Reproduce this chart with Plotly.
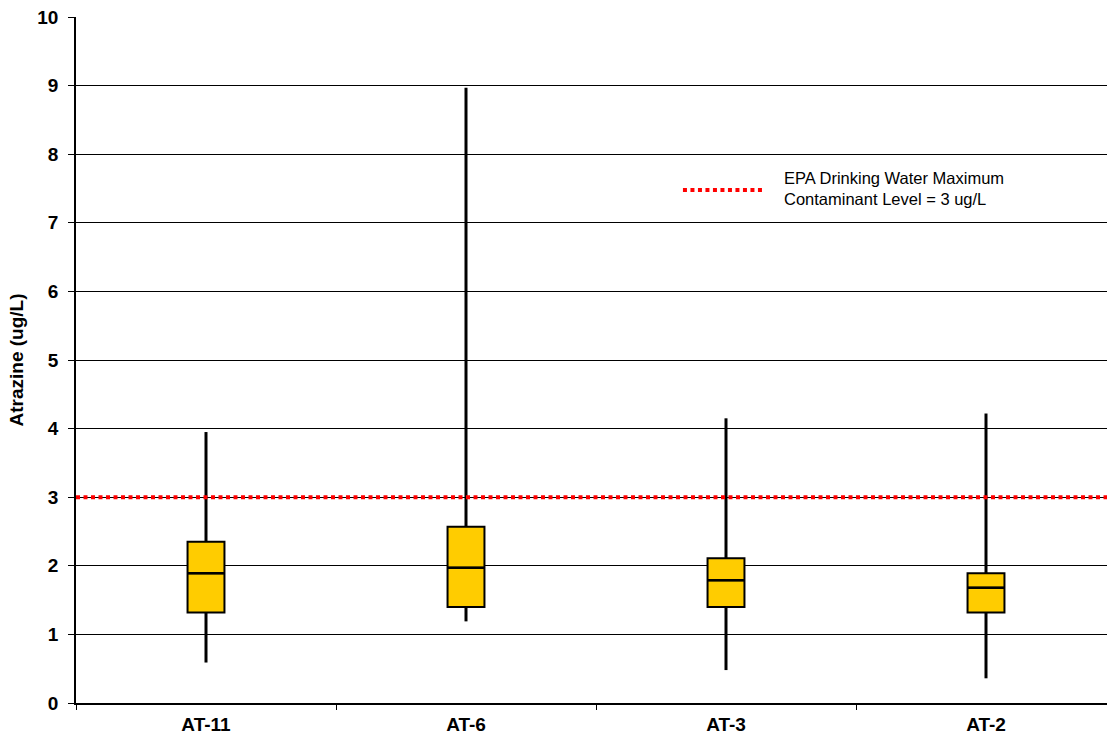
import plotly.graph_objects as go

# Atrazine concentrations by monitoring well (ug/L)
wells = ["AT-11", "AT-6", "AT-3", "AT-2"]
minimum = [0.59, 1.19, 0.48, 0.36]
q1 = [1.32, 1.40, 1.40, 1.32]
median = [1.89, 1.97, 1.79, 1.68]
q3 = [2.35, 2.57, 2.11, 1.89]
maximum = [3.95, 8.97, 4.15, 4.22]

# EPA maximum contaminant level
mcl = 3.0
mcl_label = "EPA Drinking Water Maximum<br>Contaminant Level = 3 ug/L"

y_ticks = list(range(0, 11))

FONT = "Arial, 'Liberation Sans', sans-serif"
BOX_WIDTH = 0.142

fig = go.Figure()

# Whiskers drawn as segments outside the boxes
wx, wy = [], []
for w, lo, a, b, hi in zip(wells, minimum, q1, q3, maximum):
    wx += [w, w, None, w, w, None]
    wy += [lo, a, None, b, hi, None]
fig.add_trace(go.Scatter(
    x=wx, y=wy, mode="lines",
    line=dict(color="black", width=3),
    showlegend=False, hoverinfo="skip",
))

# Interquartile boxes
fig.add_trace(go.Box(
    x=wells, q1=q1, median=median, q3=q3,
    lowerfence=q1, upperfence=q3,
    width=BOX_WIDTH, whiskerwidth=0,
    fillcolor="#FFCC00",
    line=dict(color="black", width=2),
    boxpoints=False, showlegend=False, hoverinfo="skip",
))

# Heavier median bars
fig.add_trace(go.Box(
    x=wells, q1=median, median=median, q3=median,
    lowerfence=median, upperfence=median,
    width=BOX_WIDTH, whiskerwidth=0,
    fillcolor="black",
    line=dict(color="black", width=2.5),
    boxpoints=False, showlegend=False,
))

# MCL reference line across the full plot width
fig.add_shape(
    type="line", xref="paper", yref="y",
    x0=0, x1=1, y0=mcl, y1=mcl,
    line=dict(color="#FF0000", width=4, dash="4px,3.5px"),
    layer="above",
)

# Legend key for the MCL line
fig.add_shape(
    type="line", xref="paper", yref="paper",
    x0=0.5887, x1=0.6654, y0=0.7478, y1=0.7478,
    line=dict(color="#FF0000", width=4, dash="4px,3.5px"),
)
fig.add_annotation(
    xref="paper", yref="paper", x=0.6845, y=0.7505,
    xanchor="left", yanchor="middle", align="left",
    text=mcl_label, showarrow=False,
    font=dict(family=FONT, size=16.5, color="black"),
)

fig.update_layout(
    width=1107, height=743,
    margin=dict(l=76, r=0, t=17, b=40),
    plot_bgcolor="white", paper_bgcolor="white",
    showlegend=False,
    font=dict(family=FONT, color="black"),
)

fig.update_xaxes(
    type="category", categoryorder="array", categoryarray=wells,
    range=[-0.5, 3.4654],
    showline=True, linecolor="black", linewidth=1.5,
    ticks="outside", tickson="boundaries", ticklen=5, tickcolor="black",
    tickfont=dict(family=FONT, size=19, color="black", weight="bold"),
    ticklabelstandoff=3,
    showgrid=False, zeroline=False,
)

fig.update_yaxes(
    range=[0, 10], tickvals=y_ticks,
    showline=True, linecolor="black", linewidth=1.5,
    ticks="outside", ticklen=6, tickcolor="black",
    tickfont=dict(family=FONT, size=19, color="black", weight="bold"),
    ticklabelstandoff=6,
    showgrid=True, gridcolor="black", gridwidth=1,
    zeroline=False,
    title=dict(text="Atrazine (ug/L)", standoff=9,
               font=dict(family=FONT, size=19, color="black", weight="bold")),
)

fig.write_html("out.html")
